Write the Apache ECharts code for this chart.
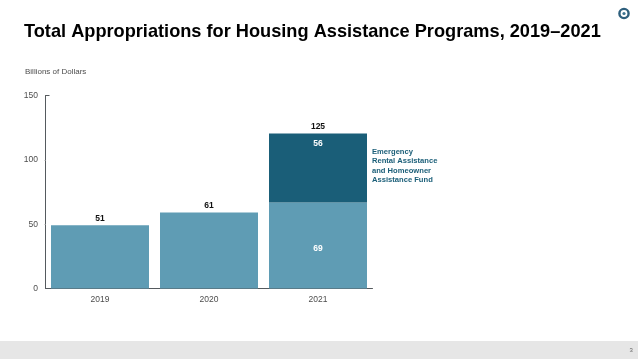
<!DOCTYPE html>
<html><head><meta charset="utf-8">
<style>html,body{margin:0;padding:0;background:#fff}#c{width:638px;height:359px}</style>
<script src="https://cdn.jsdelivr.net/npm/echarts@6/dist/echarts.min.js"></script></head>
<body><div id="c"></div>
<script>
const categories = ['2019','2020','2021'];
const baseValues = [49.2, 59, 66.8];
const emergencyValues = [null, null, 53.6];
const baseLabels = ['51','61','69'];
const emergencyLabel = '56';
const totalLabel = '125';
const yTicks = [0,50,100,150];
const titleText = 'Total Appropriations for Housing Assistance Programs, 2019–2021';
const unitText = 'Billions of Dollars';
const noteText = 'Emergency\nRental Assistance\nand Homeowner\nAssistance Fund';
const pageNo = '3';
const F = '"Liberation Sans", Arial, sans-serif';
const chart = echarts.init(document.getElementById('c'), null, {renderer:'canvas'});
chart.setOption({
  animation:false,
  backgroundColor:'#ffffff',
  textStyle:{fontFamily:F},
  grid:{left:45.5,right:265.5,top:95.5,bottom:70.5,containLabel:false},
  xAxis:{type:'category',data:categories,
    axisLine:{lineStyle:{color:'#555a5e',width:1}},axisTick:{show:false},
    axisLabel:{color:'#4d4d4d',fontSize:8.5,margin:7,fontFamily:F}},
  yAxis:[{type:'value',min:0,max:150,interval:50,
    axisLine:{show:true,lineStyle:{color:'#555a5e',width:1}},
    axisTick:{show:true,inside:true,length:4,customValues:[150],lineStyle:{color:'#555a5e'}},
    splitLine:{show:false},
    axisLabel:{color:'#4d4d4d',fontSize:8.5,margin:7.5,fontFamily:F,customValues:yTicks}},
   {type:'value',min:0,max:150,interval:50,position:'left',
    axisLine:{show:false},
    axisTick:{show:true,length:1,customValues:[50,100],lineStyle:{color:'#b5b5b5'}},
    splitLine:{show:false},axisLabel:{show:false}}],
  series:[
    {type:'bar',stack:'t',data:baseValues,barWidth:98,itemStyle:{color:'#5f9cb4'},
     label:{show:true,position:'inside',offset:[0,3],color:'#ffffff',fontSize:8.5,fontWeight:'bold',fontFamily:F,
       formatter:p=>p.dataIndex===2?baseLabels[2]:''},
     z:2},
    {type:'bar',stack:'t',data:emergencyValues,barWidth:98,itemStyle:{color:'#1a5e78'},
     label:{show:true,position:'insideTop',distance:6,color:'#ffffff',fontSize:8.5,fontWeight:'bold',fontFamily:F,
       formatter:()=>emergencyLabel},z:2},
    {type:'custom',silent:true,data:categories.map((c,i)=>i),z:5,
     renderItem:(params,api)=>{
       const i=api.value(0);
       const tops=[baseValues[0],baseValues[1],baseValues[2]+emergencyValues[2]];
       const labs=[baseLabels[0],baseLabels[1],totalLabel];
       const p=api.coord([i,tops[i]]);
       return {type:'text',style:{text:labs[i],x:p[0],y:p[1]-2.5,align:'center',verticalAlign:'bottom',
         font:'bold 8.5px '+F,fill:'#111111'}};
     }, encode:{x:0}}
  ],
  graphic:[
    {type:'rect',left:0,top:341,shape:{width:638,height:18},style:{fill:'#e6e6e6'},silent:true},
    {type:'text',left:24,top:23,style:{text:titleText,font:'bold 18.2px '+F,fill:'#000000'}},
    {type:'text',left:25,top:68,style:{text:unitText,font:'8px '+F,fill:'#4d4d4d'}},
    {type:'text',left:372,top:147,style:{text:noteText,font:'bold 7.6px '+F,fill:'#1a5e78',lineHeight:9.4}},
    {type:'text',left:629.5,top:347.5,style:{text:pageNo,font:'6px '+F,fill:'#666666'}},
    {type:'circle',shape:{cx:624,cy:13.5,r:4.6},style:{fill:'none',stroke:'#2e5f7d',lineWidth:2.4}},
    {type:'circle',shape:{cx:624,cy:13.5,r:1.6},style:{fill:'#3c7390'}}
  ]
});
</script></body></html>
